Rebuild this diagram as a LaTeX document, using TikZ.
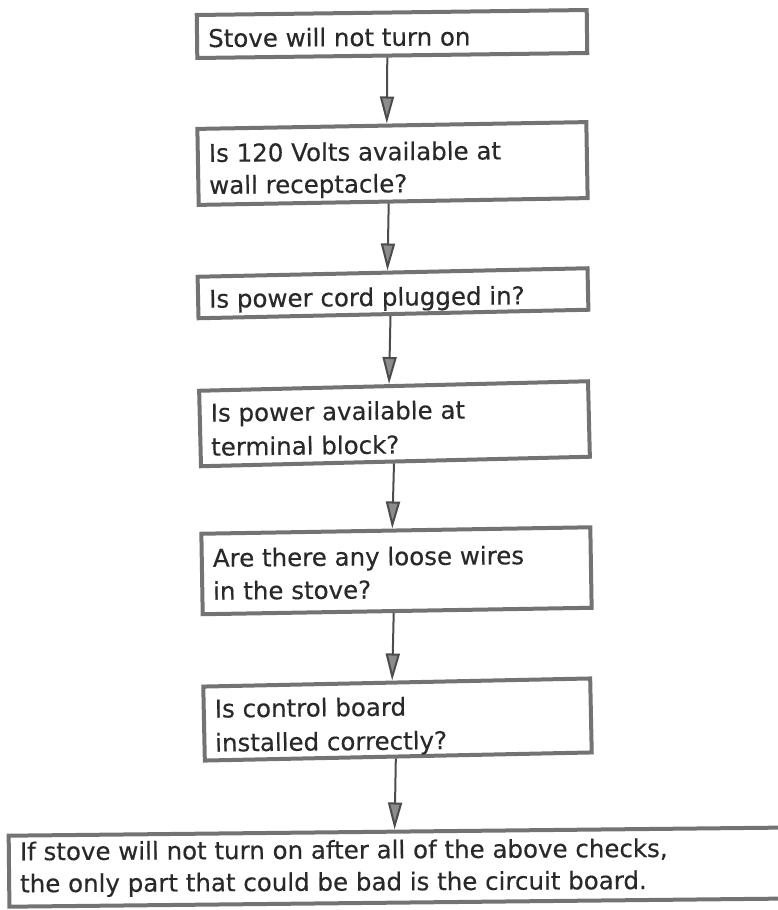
\documentclass[tikz,border=0pt]{standalone}
\usepackage{fontspec}
\setmainfont{DejaVu Sans}[FakeBold=0.4]
\usetikzlibrary{arrows.meta,calc}
\definecolor{boxgray}{gray}{0.45}
\definecolor{inkgray}{gray}{0.16}
\definecolor{linegray}{gray}{0.30}
\definecolor{headgray}{gray}{0.55}
% #1 name, #2 cx, #3 cy, #4 width, #5 height, #6 tilt, #7 baseline from top, #8 line skip, #9 text
\newcommand{\flowbox}[9]{%
  \node[stepbox, rotate=#6, minimum width=#4pt, minimum height=#5pt] (#1) at (#2,#3) {};
  \node[txt, rotate={#6/2}, font={\fontsize{24.5}{#8}\selectfont}] (#1t) at
    ($(#1.center)+({(-#4/2+11)*cos(#6)+(-#5/2+#7-18.6)*sin(#6)},{-(-#4/2+11)*sin(#6)+(-#5/2+#7-18.6)*cos(#6)})$) {#9};
}
\begin{document}
\begin{tikzpicture}[x=1pt,y=-1pt,
  stepbox/.style={draw=boxgray, line width=4pt, rectangle, inner sep=0pt},
  txt/.style={anchor=north west, inner sep=0pt, align=left, text=inkgray},
  conn/.style={draw=linegray, line width=2pt,
    -{Triangle[length=27pt,width=14pt,fill=headgray]}}]
\useasboundingbox (0,0) rectangle (778,910);

\flowbox{b1}{392}{34}{390}{43}{0.73}{32}{32}{Stove will not turn on}
\flowbox{b2}{392.5}{163.5}{389}{76}{1.0}{33}{32}{Is 120 Volts available at\\wall receptacle?}
\flowbox{b3}{393}{293.25}{390}{41.5}{1.25}{31}{32}{Is power cord plugged in?}
\flowbox{b4}{394.5}{423.75}{389}{75.5}{1.4}{31}{34}{Is power available at\\terminal block?}
\flowbox{b5}{396.5}{570.75}{389}{80.5}{0.95}{33}{33}{Are there any loose wires\\in the stove?}
\flowbox{b6}{397.5}{719.5}{387}{74}{1.2}{31}{34}{Is control board\\installed correctly?}
\flowbox{b7}{409}{867}{800}{71}{0.6}{24.5}{32}{If stove will not turn on after all of the above checks,\\the only part that could be bad is the circuit board.}

% connectors
\draw[conn] ([xshift=-5pt]b1.south) -- ([xshift=-5pt]b2.north);
\draw[conn] ([xshift=-4.5pt]b2.south) -- ([xshift=-5pt]b3.north);
\draw[conn] ([xshift=-3pt]b3.south) -- ([xshift=-4.5pt]b4.north);
\draw[conn] ([xshift=-1.5pt]b4.south) -- ([xshift=-3.5pt]b5.north);
\draw[conn] ([xshift=-3.5pt]b5.south) -- ([xshift=-4.5pt]b6.north);
\draw[conn] ([xshift=-2.5pt]b6.south) -- ([xshift=-14pt]b7.north);
\end{tikzpicture}
\end{document}
